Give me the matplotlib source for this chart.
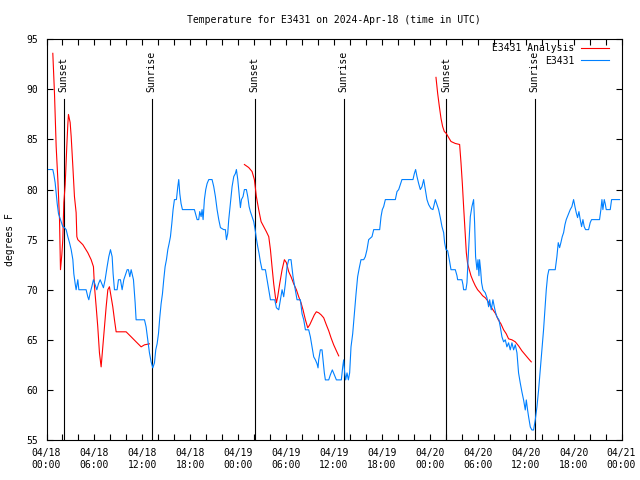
import pandas as pd
import matplotlib
matplotlib.use('Agg')
import matplotlib.pyplot as plt
import matplotlib.dates as mdates

plt.rcParams['font.family'] = ['DejaVu Sans Mono']
plt.rcParams['font.size'] = 7

START = pd.Timestamp('2024-04-18 00:00')

# hours since 04/18 00:00 UTC, temps in F
analysis1_hours = [0.79, 1.00, 1.21, 1.42, 1.63, 1.75, 1.92, 2.04, 2.17, 2.34, 2.54, 2.67, 2.75, 2.96, 3.09,
                   3.30, 3.50, 3.71, 3.80, 3.92, 4.55, 5.17, 5.59, 5.88, 6.01, 6.22, 6.42, 6.63, 6.84, 7.05,
                   7.26, 7.47, 7.68, 7.88, 8.09, 8.30, 8.51, 8.72, 9.97, 10.60, 11.22, 11.85, 12.27, 12.89]
analysis1_temps = [93.6, 89.6, 84.3, 81.0, 77.0, 72.0, 73.5, 75.0, 78.7, 80.5, 84.3, 86.5, 87.5, 86.7, 85.3,
                   82.3, 79.3, 77.7, 75.3, 75.0, 74.5, 73.7, 73.0, 72.3, 70.3, 68.3, 66.3, 63.7, 62.3, 64.3,
                   66.3, 68.3, 70.0, 70.3, 69.3, 68.3, 67.0, 65.8, 65.8, 65.3, 64.8, 64.3, 64.5, 64.6]

analysis2_hours = [24.78, 25.32, 25.74, 26.03, 26.28, 26.57, 26.87, 27.20, 27.53, 27.83, 28.04, 28.24, 28.45,
                   28.66, 28.79, 28.95, 29.20, 29.50, 29.79, 30.04, 30.33, 30.62, 30.95, 31.29, 31.58, 31.87,
                   32.12, 32.42, 32.71, 32.96, 33.25, 33.54, 33.79, 34.08, 34.38, 34.71, 35.04, 35.34, 35.63,
                   35.96, 36.30, 36.59]
analysis2_temps = [82.5, 82.2, 81.8, 81.0, 79.3, 78.0, 76.8, 76.3, 75.8, 75.3, 74.0, 72.3, 70.6,
                   69.3, 68.7, 69.3, 70.6, 72.0, 73.0, 72.7, 71.8, 71.3, 70.6, 70.0, 69.3, 68.7,
                   68.0, 67.0, 66.2, 66.5, 67.0, 67.5, 67.8, 67.7, 67.5, 67.2, 66.5, 65.9, 65.2,
                   64.5, 63.9, 63.4]

analysis3_hours = [48.77, 48.98, 49.19, 49.40, 49.60, 49.81, 50.06, 50.35, 50.65, 51.19, 51.73, 51.90, 52.07,
                   52.23, 52.40, 52.57, 52.73, 52.94, 53.15, 53.40, 53.69, 53.98, 54.32, 54.61, 54.94, 55.24,
                   55.57, 55.90, 56.24, 56.57, 56.90, 57.24, 57.57, 57.86, 58.28, 58.70, 59.11, 59.53, 59.95,
                   60.37, 60.70]
analysis3_temps = [91.2, 89.6, 88.3, 87.1, 86.3, 85.8, 85.6, 85.2, 84.8, 84.6, 84.5, 82.7, 80.6,
                   78.3, 76.0, 73.7, 72.6, 72.0, 71.4, 70.9, 70.4, 70.0, 69.7, 69.4, 69.2, 68.9,
                   68.4, 68.0, 67.6, 67.0, 66.6, 66.0, 65.6, 65.1, 65.0, 64.8, 64.4, 63.9, 63.5,
                   63.1, 62.8]

obs_hours = [0.25, 0.79, 0.92, 1.08, 1.21, 1.34, 1.50, 1.75, 2.04, 2.25, 2.46, 2.67, 2.88, 3.09, 3.30,
             3.42, 3.59, 3.71, 3.92, 4.05, 4.96, 5.17, 5.30, 5.47, 5.67, 5.88, 6.09, 6.30, 6.51, 6.72,
             6.93, 7.13, 7.34, 7.59, 7.80, 8.01, 8.22, 8.34, 8.51, 8.84, 9.01, 9.26, 9.47, 9.68, 9.93,
             10.10, 10.26, 10.43, 10.60, 10.72, 10.89, 11.10, 11.22, 12.27, 12.47, 12.68, 12.89, 13.10, 13.31,
             13.52, 13.68, 13.85, 14.02, 14.18, 14.35, 14.52, 14.68, 14.85, 15.02, 15.19, 15.35, 15.52, 15.69,
             15.85, 16.02, 16.27, 16.44, 16.56, 16.69, 16.85, 17.02, 18.52, 18.69, 18.86, 19.06, 19.19, 19.36,
             19.48, 19.61, 19.77, 19.94, 20.11, 20.32, 20.73, 20.94, 21.15, 21.36, 21.57, 21.78, 22.19, 22.40,
             22.53, 22.69, 22.82, 23.03, 23.24, 23.45, 23.65, 23.78, 23.95, 24.11, 24.28, 24.41, 24.61, 24.78,
             25.03, 25.20, 25.37, 25.53, 25.74, 25.95, 26.16, 26.28, 26.45, 26.62,
             26.78, 26.99, 27.41, 27.62, 27.83, 28.04, 28.58, 28.79, 29.08, 29.29, 29.50, 29.70, 29.91, 30.12,
             30.33, 30.62, 30.87, 31.16, 31.37, 31.79, 32.00, 32.21, 32.42, 32.83, 33.04, 33.25, 33.46, 33.67,
             33.88, 34.00, 34.08, 34.29, 34.50, 34.63, 34.79, 34.92, 35.34, 35.54, 35.79, 36.05, 36.30, 36.92,
             37.09, 37.21, 37.34, 37.46, 37.63, 37.80, 37.96, 38.13, 38.34, 38.55, 38.76, 38.96, 39.17, 39.38,
             39.72, 39.92, 40.13, 40.34, 40.76, 40.97, 41.72, 41.89, 42.05, 42.22, 42.43, 43.68, 43.89, 44.10,
             44.31, 44.51, 45.89, 46.06, 46.22, 46.39, 46.60, 46.81,
             47.02, 47.23, 47.43, 47.64, 47.85, 48.14, 48.39, 48.69, 48.89, 49.10, 49.31, 49.52, 49.73, 49.85,
             50.02, 50.23, 50.44, 50.65, 51.19, 51.40, 51.48, 52.02, 52.15, 52.23, 52.52, 52.65, 52.77, 52.94,
             53.07, 53.27, 53.48, 53.61, 53.73, 53.90, 54.03, 54.15, 54.23, 54.36, 54.48, 54.65, 54.94, 55.15,
             55.36, 55.49, 55.69, 55.90, 56.07, 56.24, 56.40, 56.65, 56.82, 57.03, 57.24, 57.45, 57.65, 57.86,
             58.07, 58.28, 58.49, 58.70, 58.91, 59.11, 59.32, 59.53, 59.74, 59.95, 60.08, 60.24, 60.37, 60.58,
             60.78, 60.99, 61.20, 61.41, 61.62, 61.83, 62.03, 62.24, 62.41, 62.58, 62.75, 62.91, 63.70, 63.91,
             64.08, 64.25, 64.41, 64.58, 64.75, 64.92, 65.08, 65.42, 65.58, 65.79, 66.00, 66.17, 66.33, 66.50,
             66.67, 66.83, 67.00, 67.17, 67.33, 67.50, 67.88, 68.08, 68.25, 69.25, 69.42, 69.55, 69.67, 69.84,
             69.96, 70.09, 70.59, 70.76, 71.76]
obs_temps = [82.0, 82.0, 81.5, 80.7, 79.6, 78.6, 77.6, 77.0, 76.3, 76.2, 76.0, 75.3, 74.7, 74.0, 73.0,
             71.6, 70.6, 70.0, 71.0, 70.0, 70.0, 69.3, 69.0, 69.7, 70.3, 71.0, 70.5, 70.0, 70.6, 71.0,
             70.6, 70.2, 71.0, 72.3, 73.3, 74.0, 73.3, 71.6, 70.0, 70.0, 71.0, 71.0, 70.0, 71.0, 71.6,
             72.0, 72.0, 71.3, 72.0, 71.6, 71.0, 68.7, 67.0, 67.0, 66.3, 65.0, 63.7, 62.8, 62.2,
             62.7, 64.0, 64.6, 65.6, 67.2, 68.6, 69.6, 71.0, 72.3, 73.0, 74.0, 74.6, 75.3, 76.6,
             78.0, 79.0, 79.0, 80.3, 81.0, 79.6, 78.6, 78.0, 78.0, 77.5, 77.0, 77.0, 77.8, 77.3,
             78.0, 77.0, 79.0, 80.0, 80.6, 81.0, 81.0, 80.3, 79.3, 78.0, 77.0, 76.2, 76.0, 76.0,
             75.0, 75.6, 77.0, 78.6, 80.3, 81.3, 81.6, 82.0, 81.0, 79.6, 78.2, 79.0, 79.3, 80.0,
             80.0, 79.3, 78.3, 77.8, 77.3, 76.8, 75.8, 75.1, 74.3, 73.6,
             72.8, 72.0, 72.0, 71.0, 70.0, 69.0, 69.0, 68.2, 68.0, 69.0, 70.0, 69.3, 70.6, 72.3,
             73.0, 73.0, 71.3, 70.0, 69.0, 69.0, 67.6, 67.0, 66.0, 66.0, 65.3, 64.3, 63.3, 63.0,
             62.6, 62.2, 63.0, 64.0, 64.0, 63.0, 61.7, 61.0, 61.0, 61.5, 62.0, 61.5, 61.0, 61.0,
             62.3, 63.0, 61.7, 61.0, 61.7, 61.0, 61.7, 64.3, 65.6, 67.6, 69.6, 71.3, 72.2, 73.0,
             73.0, 73.3, 74.0, 75.0, 75.3, 76.0, 76.0, 77.3, 78.0, 78.3, 79.0, 79.0, 79.8, 80.0,
             80.5, 81.0, 81.0, 81.6, 82.0, 81.3, 80.6, 80.0,
             80.3, 81.0, 80.0, 79.0, 78.5, 78.1, 78.0, 79.0, 78.5, 78.0, 77.2, 76.3, 75.7, 74.7,
             74.0, 73.9, 73.0, 72.0, 72.0, 71.4, 71.0, 71.0, 70.5, 70.0, 70.0, 70.7, 72.7, 75.3,
             77.3, 78.3, 79.0, 76.6, 73.3, 72.0, 73.0, 71.4, 73.0, 72.0, 70.7, 70.0, 69.7, 69.2,
             68.3, 69.0, 68.0, 69.0, 68.3, 67.7, 67.3, 67.0, 66.3, 65.3, 64.8, 65.0, 64.3, 64.7,
             64.0, 64.7, 64.0, 64.5, 63.7, 61.7, 60.7, 59.8, 59.0, 58.0, 59.0, 58.0, 57.3, 56.3,
             56.0, 56.0, 57.0, 58.3, 60.0, 62.0, 64.0, 66.0, 68.0, 70.0, 71.4, 72.0, 72.0, 73.3,
             74.7, 74.2, 74.7, 75.3, 75.7, 76.5, 77.0, 77.7, 78.0, 78.3, 79.0, 78.3, 77.7, 77.2,
             77.8, 77.0, 76.3, 77.0, 76.3, 76.0, 76.0, 76.7, 77.0, 77.0, 78.0, 79.0, 78.0, 79.0,
             78.6, 78.0, 78.0, 79.0, 79.0]

sunset_hours = [2.17, 26.07, 50.06]
sunrise_hours = [13.18, 37.21, 61.11]


def to_time(hours):
    return START + pd.to_timedelta(hours, unit='h')


fig = plt.figure(figsize=(6.4, 4.8), dpi=100)
ax = fig.add_axes([46.5 / 640, 40 / 480, 575 / 640, 400.7 / 480])

for i, (h, t) in enumerate([(analysis1_hours, analysis1_temps),
                            (analysis2_hours, analysis2_temps),
                            (analysis3_hours, analysis3_temps)]):
    ax.plot(to_time(h), t, color='#ff0000', lw=0.8, zorder=3,
            label='E3431 Analysis' if i == 0 else None)
ax.plot(to_time(obs_hours), obs_temps, color='#0080ff', lw=0.8, zorder=4, label='E3431')

for hrs, name in [(sunset_hours, 'Sunset'), (sunrise_hours, 'Sunrise')]:
    for h in hrs:
        t = to_time([h])[0]
        ax.plot([t, t], [55, 89], color='black', lw=0.8, zorder=2)
        ax.text(t, 89.75, name, rotation=90, ha='center', va='bottom', fontsize=7, zorder=5)

ax.set_xlim(START, START + pd.Timedelta(hours=72))
ax.set_ylim(55, 95)
ax.set_yticks(range(55, 96, 5))
ax.xaxis.set_major_locator(mdates.HourLocator(byhour=range(0, 24, 6)))
ax.xaxis.set_minor_locator(mdates.HourLocator(interval=2))
ax.xaxis.set_major_formatter(mdates.DateFormatter('%m/%d\n%H:%M'))
ax.tick_params(which='both', direction='in', length=4, width=0.8, top=True, right=True)
ax.tick_params(axis='x', which='major', pad=6)
ax.tick_params(axis='y', pad=6)
for s in ax.spines.values():
    s.set_linewidth(0.8)

leg = ax.legend(loc='upper right', bbox_to_anchor=(0.979, 0.99), frameon=False, markerfirst=False,
                handlelength=2.9, handletextpad=0.7, borderpad=0, borderaxespad=0, labelspacing=0.25)

fig.text(334 / 640, 1 - 20 / 480, 'Temperature for E3431 on 2024-Apr-18 (time in UTC)',
         ha='center', va='center', fontsize=7)
fig.text(10 / 640, 1 - 240 / 480, 'degrees F', rotation=90, ha='center', va='center', fontsize=7)

fig.savefig('out.png', dpi=100)
